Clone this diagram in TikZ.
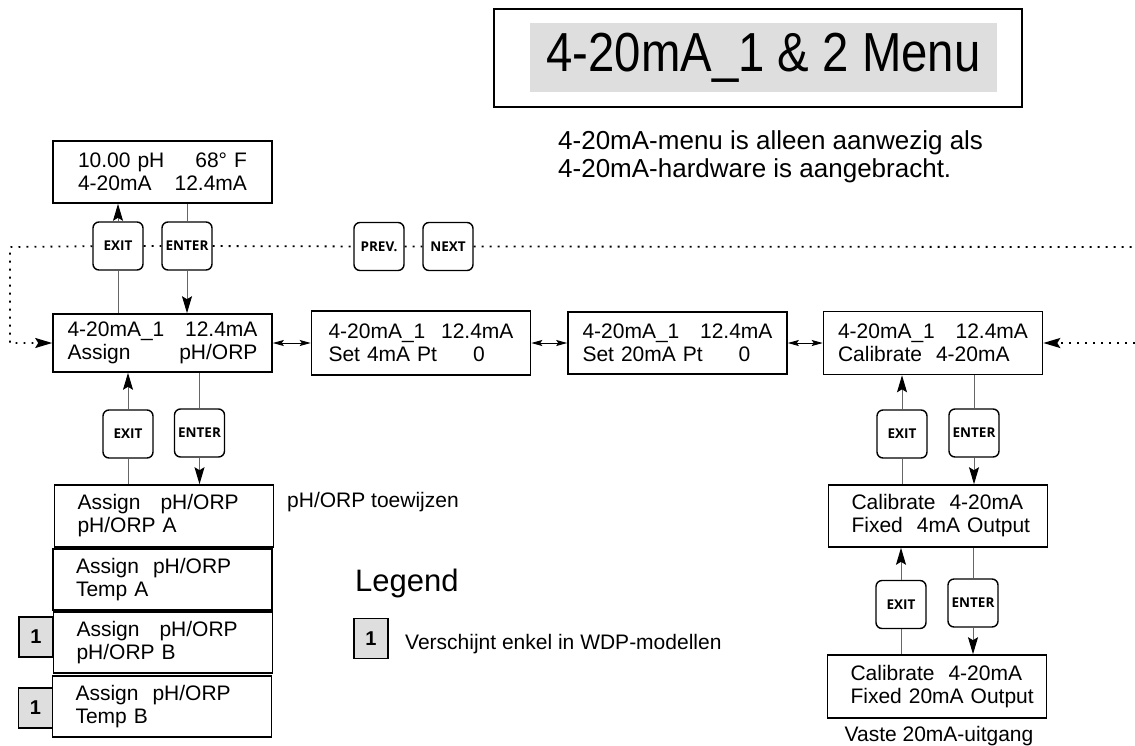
\documentclass[tikz,border=0pt]{standalone}
\usepackage{fontspec}
\setmainfont{Liberation Sans}
\newfontfamily\keyfont{Open Sans}
\newfontfamily\titlefont{Liberation Sans}[FakeStretch=0.86]
\usetikzlibrary{arrows.meta}

\begin{document}
\begin{tikzpicture}[x=1pt, y=-1pt,
        lcd/.style={draw, line width=1.6pt, minimum width=219pt, minimum height=62pt,
            inner xsep=0pt, inner ysep=0pt, text width=173pt, align=left,
            font=\fontsize{21}{23}\selectfont},
        key/.style={draw, line width=1.4pt, rounded corners=6pt, fill=white,
            minimum width=50pt, minimum height=48pt, inner sep=0pt,
            font=\keyfont\bfseries\fontsize{13.5}{14}\selectfont},
        badge/.style={draw, line width=1.2pt, fill=gray!26, minimum width=34pt,
            minimum height=40pt, inner sep=0pt, font=\bfseries\fontsize{20}{22}\selectfont},
        note/.style={inner sep=0pt, font=\fontsize{21}{23}\selectfont},
        conn/.style={draw=black!60, line width=1pt},
        tip/.style={-{Stealth[length=17pt, width=10pt, inset=3pt, color=black]}},
        pair/.style={line width=0.9pt,
            {Stealth[length=11pt, width=6pt, inset=2pt]}-{Stealth[length=11pt, width=6pt, inset=2pt]}},
        dots/.style={line width=1.8pt, dash pattern=on 1.8pt off 6.2pt}]
    \useasboundingbox (0,0) rectangle (1135,745);

    \node[draw, line width=1.5pt, minimum width=528pt, minimum height=98pt] (frame) at (758,58) {};
    \node[fill=gray!26, minimum width=467pt, minimum height=69pt, inner sep=0pt,
        font=\titlefont\fontsize{55}{60}\selectfont] (title) at (763.5,57.5) {4-20mA\_1 \& 2 Menu};
    \node[note, anchor=north west, align=left, font=\fontsize{26}{28}\selectfont] (sub) at (558,130)
        {4-20mA-menu is alleen aanwezig als\\4-20mA-hardware is aangebracht.};

    \node[lcd, text width=169pt] (status) at (162.5,172) {10.00 pH\hfill 68° F\\4-20mA\hfill 12.4mA};
    \node[lcd, text width=190pt, minimum height=58pt] (assign) at (162.5,343)
        {4-20mA\_1\hfill 12.4mA\\Assign\hfill pH/ORP};
    \node[lcd, text width=185pt, minimum height=64pt] (set4) at (421,343)
        {4-20mA\_1\hfill 12.4mA\\Set 4mA Pt\hspace{36pt}0};
    \node[lcd, text width=190pt] (set20) at (677.5,343)
        {4-20mA\_1\hfill 12.4mA\\Set 20mA Pt\hspace{36pt}0};
    \node[lcd, text width=190pt, minimum height=63pt] (cal) at (933,343)
        {4-20mA\_1\hfill 12.4mA\\Calibrate\ \ 4-20mA};
    \node[lcd] (fix4) at (938,516) {Calibrate\ \ 4-20mA\\\mbox{Fixed\ \ 4mA Output}};
    \node[lcd, minimum height=63pt] (fix20) at (937,686.5)
        {Calibrate\ \ 4-20mA\\\mbox{Fixed 20mA Output}};

    \node[lcd] (asgA) at (164,516) {Assign\hspace{20pt}pH/ORP\\pH/ORP A};
    \node[lcd, minimum height=61pt] (asgB) at (162.5,579.5) {Assign\hspace{14pt}pH/ORP\\Temp A};
    \node[lcd, minimum height=61pt] (asgC) at (163,642.5) {Assign\hspace{20pt}pH/ORP\\pH/ORP B};
    \node[lcd, minimum height=61pt] (asgD) at (162,706.5) {Assign\hspace{14pt}pH/ORP\\Temp B};
    \node[badge] (oneC) at (36,637) {1};
    \node[badge] (oneD) at (35.5,708) {1};

    \node[note, anchor=base west] (asgnote) at (287,507) {pH/ORP toewijzen};
    \node[note, anchor=base] (fixnote) at (939,741) {Vaste 20mA-uitgang};
    \node[note, anchor=base west, font=\fontsize{31}{33}\selectfont] (legend) at (355,591) {Legend};
    \node[badge] (oneKey) at (371,638.5) {1};
    \node[note, anchor=base west] (keytext) at (405,649) {Verschijnt enkel in WDP-modellen};

    \foreach \nm/\xx/\yy/\lbl in {exitT/118/246/EXIT, enterT/187/246/ENTER, prev/379/246.5/PREV.,
            next/448/246.5/NEXT, exitL/128/434/EXIT, enterL/199.5/433/ENTER, exitR/902/434/EXIT,
            enterR/974/433/ENTER, exitF/901/604.5/EXIT, enterF/973/603/ENTER}
        \node[key] (\nm) at (\xx,\yy) {\lbl};

    \foreach \k/\hi/\lo in {exitT/status/assign, exitL/assign/asgA, exitR/cal/fix4, exitF/fix4/fix20} {
        \draw[conn, tip] (\k) -- (\hi.south -| \k);
        \draw[conn] (\k) -- (\lo.north -| \k);
    }
    \foreach \k/\hi/\lo in {enterT/status/assign, enterL/assign/asgA, enterR/cal/fix4, enterF/fix4/fix20} {
        \draw[conn] (\k) -- (\hi.south -| \k);
        \draw[conn, tip] (\k) -- (\lo.north -| \k);
    }
    \foreach \a/\b in {assign/set4, set4/set20, set20/cal}
        \draw[pair] (\a) -- (\b);

    \coordinate (loopL) at (10,247);
    \coordinate (endT) at (1135,247);
    \coordinate (endM) at (1135,343);
    \draw[dots] (exitT) -- (enterT) (enterT) -- (prev) (prev) -- (next) (next) -- (endT);
    \draw[dots, tip] (exitT) -- (loopL) |- (assign);
    \draw[dots, tip] (endM) -- (cal);
\end{tikzpicture}
\end{document}
